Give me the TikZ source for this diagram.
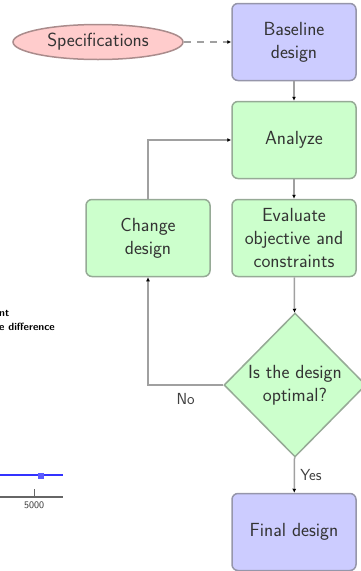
\documentclass[tikz,border=0pt]{standalone}
\usetikzlibrary{shapes.geometric,arrows.meta}
\definecolor{boxblue}{RGB}{204,204,255}
\definecolor{boxgreen}{RGB}{204,255,204}
\definecolor{boxpink}{RGB}{255,204,204}
\definecolor{edgeblue}{RGB}{150,150,170}
\definecolor{edgegreen}{RGB}{150,170,150}
\definecolor{edgepink}{RGB}{170,140,140}
\definecolor{linegray}{RGB}{160,160,160}
\definecolor{plotblue}{RGB}{50,50,255}
\tikzset{
  txt/.style={font=\sffamily\fontsize{19}{23}\selectfont, text=black!80, align=center},
  stepbox/.style={txt, rectangle, rounded corners=6pt, line width=1.5pt,
    minimum width=124pt, minimum height=77pt, inner sep=0pt},
  bluebox/.style={stepbox, fill=boxblue, draw=edgeblue},
  greenbox/.style={stepbox, fill=boxgreen, draw=edgegreen},
  specs/.style={txt, ellipse, fill=boxpink, draw=edgepink, line width=1.5pt,
    minimum width=170pt, minimum height=35pt, inner sep=0pt},
  decision/.style={diamond, fill=boxgreen, draw=edgegreen, line width=1.5pt,
    minimum width=142pt, minimum height=144pt, inner sep=0pt},
  conn/.style={draw=linegray, line width=1.5pt,
    -{Latex[color=black,length=4pt,width=4pt]}},
  lbl/.style={font=\sffamily\fontsize{16}{19}\selectfont, text=black!75},
  frag/.style={font=\sffamily\bfseries\fontsize{10.5}{12}\selectfont, text=black, inner sep=0pt}
}
\begin{document}
\begin{tikzpicture}[x=1pt,y=-1pt]
\useasboundingbox (0,0) rectangle (360,571);
% main flowchart
\node[specs] (spec) at (98,42) {Specifications};
\node[bluebox] (base) at (294,42) {Baseline\\design};
\node[greenbox] (anal) at (294,140) {Analyze};
\node[greenbox] (eval) at (294,238) {Evaluate\\objective and\\constraints};
\node[greenbox] (chg) at (148,238) {Change\\design};
\node[decision] (opt) at (295,385) {};
\node[txt] (optt) at (opt) {Is the design\\optimal?};
\node[bluebox] (fin) at (294,532) {Final design};
\coordinate (cnr1) at (148,385);
\coordinate (cnr2) at (148,140);
\draw[conn, dashed, dash pattern=on 7pt off 6pt] (spec) -- (base);
\draw[conn] (base) -- (anal);
\draw[conn] (anal) -- (eval);
\draw[conn] (eval) -- (opt);
\draw[conn] (opt) -- node[lbl, right, pos=0.5, xshift=2pt] {Yes} (fin);
\draw[conn] (opt.west) -- node[lbl, below, pos=0.5, yshift=-4pt] {No} (cnr1) -- (chg.south);
\draw[conn] (chg.north) -- (cnr2) -- (anal.west);
% fragments of neighbouring content
\node[frag, anchor=west] (f1) at (-1,313) {nt};
\node[frag, anchor=west] (f2) at (-1,327) {e difference};
\coordinate (pl0) at (0,475);
\coordinate (pl1) at (63,475);
\draw[plotblue, line width=1.8pt] (pl0) -- (pl1);
\node[fill=plotblue!80, minimum size=6pt, inner sep=0pt] (mk) at (41,476) {};
\coordinate (ax0) at (0,497);
\coordinate (ax1) at (63,497);
\coordinate (tk) at (34,489);
\draw[black!60, line width=1.2pt] (ax0) -- (ax1);
\draw[black!60, line width=1pt] (tk) -- (34,497);
\node[font=\sffamily\fontsize{10}{11}\selectfont, text=black!80, inner sep=0pt] (tl) at (34,505) {5000};
\end{tikzpicture}
\end{document}
